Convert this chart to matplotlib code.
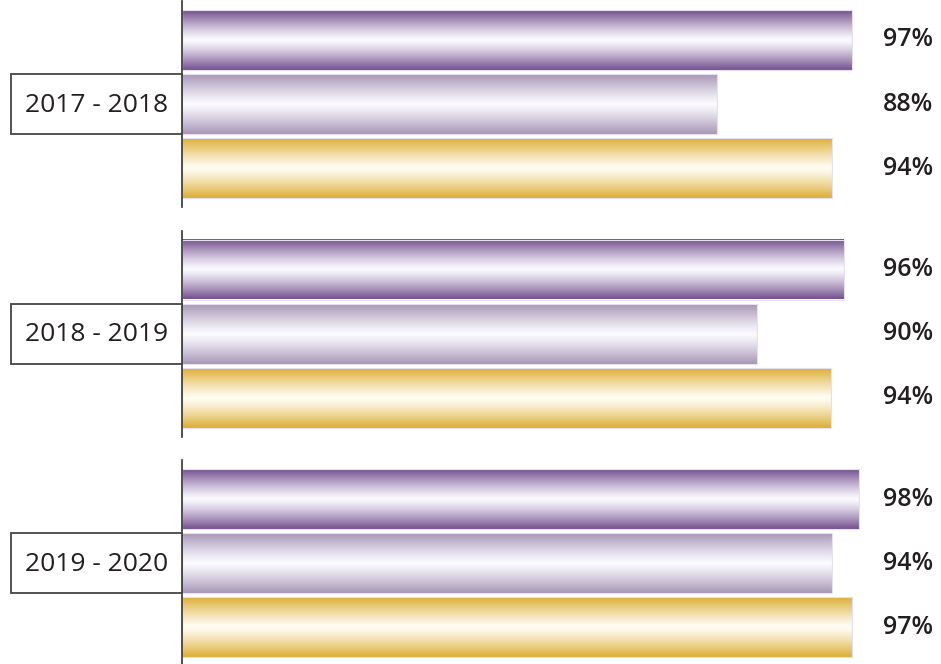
import numpy as np
import matplotlib
matplotlib.use("Agg")
import matplotlib.pyplot as plt
from matplotlib.colors import LinearSegmentedColormap
from matplotlib.patches import Rectangle

# ---- data ----
periods = ["2017 - 2018", "2018 - 2019", "2019 - 2020"]
series = ["Series A", "Series B", "Series C"]
value_labels = [["97%", "88%", "94%"],
                ["96%", "90%", "94%"],
                ["98%", "94%", "97%"]]
# drawn bar lengths (percent of the axis width)
bar_lengths = [[88.3, 70.5, 85.6],
               [87.2, 75.8, 85.5],
               [89.2, 85.6, 88.3]]
edge_colors = ["#74508e", "#a796b6", "#ddae36"]
mid_colors = ["#fbfaff", "#fbfaff", "#fffcf2"]

W, H = 941, 664
fig = plt.figure(figsize=(W / 100, H / 100), dpi=100)
ax_left = 182 / W
ax = fig.add_axes([ax_left, 0, 1 - ax_left, 1])
ax.set_xlim(0, 100)
ax.set_ylim(H, 0)
ax.axis("off")

bar_h = 60
group_pitch = 229.5
row_pitch = 64.2
first_center = 40

t = np.linspace(0, 1, 256)
prof = np.abs(t - 0.5) * 2  # 0 in middle, 1 at edges
prof = prof ** 1.2

for g, period in enumerate(periods):
    centers = [first_center + g * group_pitch + k * row_pitch for k in range(3)]
    for k in range(3):
        c = centers[k]
        cmap = LinearSegmentedColormap.from_list(
            f"c{k}", [mid_colors[k], edge_colors[k]])
        img = prof.reshape(-1, 1)
        L = bar_lengths[g][k]
        ax.imshow(img, cmap=cmap, vmin=0, vmax=1, aspect="auto",
                  extent=(0, L, c + bar_h / 2, c - bar_h / 2),
                  interpolation="bilinear", zorder=2)
        ax.add_patch(Rectangle((0, c - bar_h / 2), L, bar_h, fill=False,
                               edgecolor="#e6dff0", lw=0.8, zorder=3))
        ax.text(1.0 - 8 / (W - 182), c, value_labels[g][k],
                transform=ax.get_yaxis_transform(), ha="right", va="center",
                fontsize=18, fontweight="semibold", color="#231f20",
                family=["Open Sans", "DejaVu Sans"])
    top = centers[0] - bar_h / 2 - 9
    bot = min(centers[2] + bar_h / 2 + 9, H)
    ax.plot([0, 0], [top, bot], color="#333333", lw=1.2, zorder=4,
            clip_on=False)
    # label box
    box_left = (11 - 182) / (W - 182) * 100
    ax.add_patch(Rectangle((box_left, centers[1] - 30), -box_left, 60,
                           fill=True, facecolor="white", edgecolor="#444444",
                           lw=1.3, clip_on=False, zorder=5))
    ax.text(box_left / 2, centers[1] + 1, period, ha="center", va="center",
            fontsize=19, fontweight="normal", color="#231f20",
            family=["Open Sans", "DejaVu Sans"],
            clip_on=False, zorder=6)

fig.savefig("out.png", dpi=100)
